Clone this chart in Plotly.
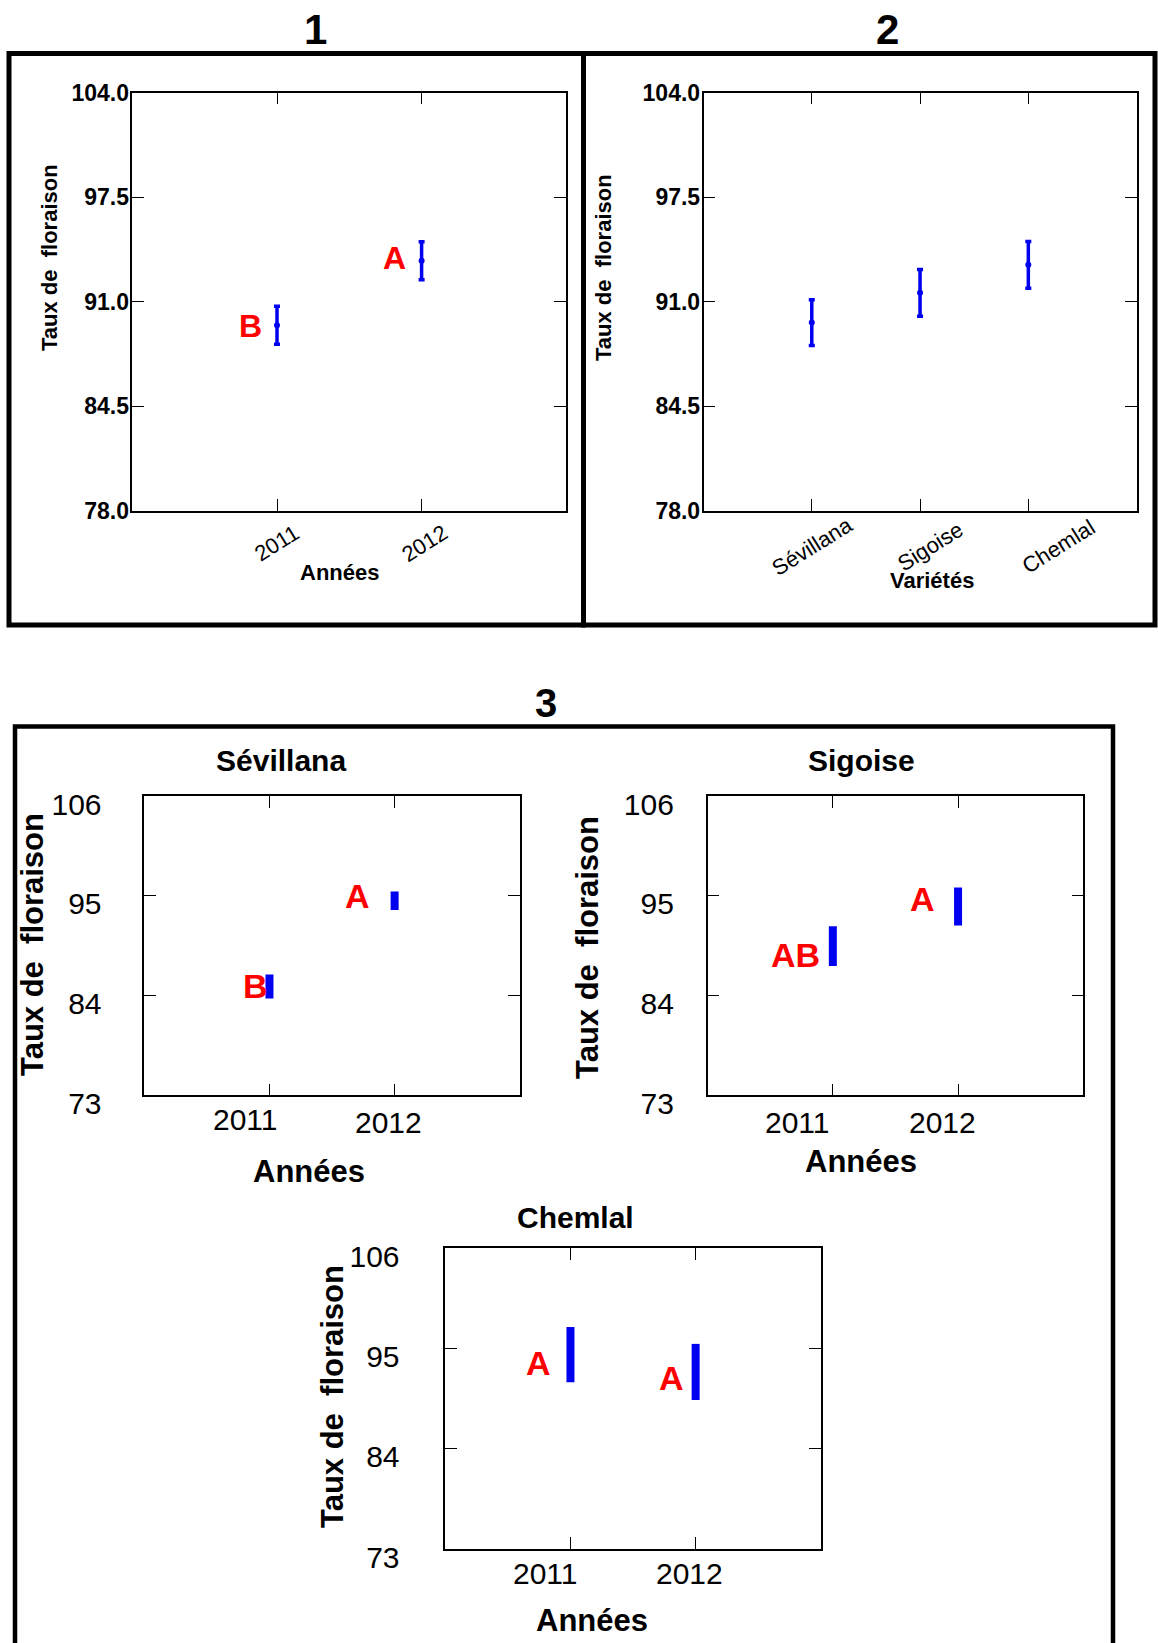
import plotly.graph_objects as go

W, H = 1158, 1643

def px(x):
    return x / W

def py(y):
    return 1 - y / H

# ---------------- data ----------------
years = [2011, 2012]
p1_mean = [89.55, 93.56]
p1_err = [1.18, 1.18]
p1_letters = ["B", "A"]

varieties = ["Sévillana", "Sigoise", "Chemlal"]
p2_mean = [89.71, 91.56, 93.30]
p2_err = [1.42, 1.45, 1.45]

sev_mean = [85.00, 94.45]
sev_err = [1.32, 1.01]
sev_letters = ["B", "A"]

sig_mean = [89.45, 93.82]
sig_err = [2.20, 2.10]
sig_letters = ["AB", "A"]

che_mean = [94.33, 92.43]
che_err = [3.03, 3.08]
che_letters = ["A", "A"]

p12_yticks = [78.0, 84.5, 91.0, 97.5, 104.0]
p3_yticks = [73, 84, 95, 106]

ylabel = "Taux de  floraison"
xlabel_years = "Années"
xlabel_var = "Variétés"

BLUE = "#0000F0"
RED = "#FF0000"
FONT = "Liberation Sans, Arial, sans-serif"

fig = go.Figure()

# ---------------- panel 1 ----------------
fig.add_trace(go.Scatter(
    x=years, y=p1_mean, mode="markers",
    marker=dict(color=BLUE, size=6),
    error_y=dict(type="data", array=p1_err, color=BLUE, thickness=3.5, width=3),
    xaxis="x", yaxis="y", showlegend=False))

# ---------------- panel 2 ----------------
fig.add_trace(go.Scatter(
    x=varieties, y=p2_mean, mode="markers",
    marker=dict(color=BLUE, size=6),
    error_y=dict(type="data", array=p2_err, color=BLUE, thickness=3.5, width=3),
    xaxis="x2", yaxis="y2", showlegend=False))

# ---------------- panel 3 ----------------
for mean, err, xa, ya in [(sev_mean, sev_err, "x3", "y3"),
                          (sig_mean, sig_err, "x4", "y4"),
                          (che_mean, che_err, "x5", "y5")]:
    fig.add_trace(go.Scatter(
        x=years, y=mean, mode="markers",
        marker=dict(color=BLUE, size=1, opacity=0),
        error_y=dict(type="data", array=err, color=BLUE, thickness=8, width=0),
        xaxis=xa, yaxis=ya, showlegend=False))

axis_common = dict(showline=True, linecolor="black", linewidth=1.5, mirror="ticks",
                   ticks="inside", ticklen=12, tickcolor="black", tickwidth=1,
                   showgrid=False, zeroline=False, automargin=False)

layout = dict(
    width=W, height=H, margin=dict(l=0, r=0, t=0, b=0, pad=0), autosize=False,
    paper_bgcolor="white", plot_bgcolor="white",
    font=dict(family=FONT, color="black"),
    xaxis=dict(domain=[px(132.4), px(566.2)], range=[2010, 2013], tickvals=years,
               showticklabels=False, anchor="y", **axis_common),
    yaxis=dict(domain=[py(511), py(92.7)], range=[78, 104], tickvals=p12_yticks,
               tickformat=".1f", tickfont=dict(size=23, weight="bold"),
               ticklabelstandoff=-3, anchor="x", **axis_common),
    xaxis2=dict(domain=[px(703.5), px(1136.6)], type="category", range=[-1, 3],
                showticklabels=False, anchor="y2", **axis_common),
    yaxis2=dict(domain=[py(511), py(92.7)], range=[78, 104], tickvals=p12_yticks,
                tickformat=".1f", tickfont=dict(size=23, weight="bold"),
                ticklabelstandoff=-3, anchor="x2", **axis_common),
)

p3_axes = [
    ("xaxis3", "yaxis3", "x3", "y3", (144.3, 519.8, 796, 1095.3), 35),
    ("xaxis4", "yaxis4", "x4", "y4", (707.6, 1083.3, 796, 1095.3), 26),
    ("xaxis5", "yaxis5", "x5", "y5", (445.3, 820.8, 1248.3, 1549), 38),
]
for xk, yk, xa, ya, (l, r, t, b), ystand in p3_axes:
    layout[xk] = dict(domain=[px(l), px(r)], range=[2010, 2013], tickvals=years,
                      showticklabels=False, anchor=ya, **axis_common)
    layout[yk] = dict(domain=[py(b), py(t)], range=[73, 106], tickvals=p3_yticks,
                      tickfont=dict(size=30), ticklabelstandoff=ystand, ticklabelshift=8,
                      anchor=xa, **axis_common)

fig.update_layout(**layout)

ann = []

def text(x, y, s, size, bold=True, angle=0, color="black"):
    ann.append(dict(x=px(x), y=py(y), xref="paper", yref="paper", text=s,
                    showarrow=False, textangle=angle, xanchor="center", yanchor="middle",
                    font=dict(size=size, color=color, family=FONT,
                              weight="bold" if bold else "normal")))

# big panel titles
text(315, 29, "1", 42)
text(888, 29, "2", 42)
text(546, 703, "3", 40)

# panel 1 / 2 axis titles
text(49, 258, ylabel, 22, angle=-90)
text(339, 573, xlabel_years, 22)
text(604, 268, ylabel, 22, angle=-90)
text(932, 580, xlabel_var, 22)

# rotated tick labels (panel 1 and 2)
for yr, dx in zip(years, [-1, 3]):
    ann.append(dict(x=yr, y=py(543), xref="x", yref="paper", text=str(yr), showarrow=False,
                    textangle=-32, xanchor="center", yanchor="middle", xshift=dx,
                    font=dict(size=22, family=FONT)))
for i, (v, dx) in enumerate(zip(varieties, [0, 10, 30])):
    ann.append(dict(x=i, y=py(546), xref="x2", yref="paper", text=v, showarrow=False,
                    textangle=-32, xanchor="center", yanchor="middle", xshift=dx,
                    font=dict(size=22, family=FONT)))

# panel 3 year tick labels
p3_xlab = [("x3", [(-24, 1119), (-6, 1122)]),
           ("x4", [(-35, 1122), (-16, 1122)]),
           ("x5", [(-25, 1573), (-6, 1573)])]
for xref, pos in p3_xlab:
    for yr, (dx, yy) in zip(years, pos):
        ann.append(dict(x=yr, y=py(yy), xref=xref, yref="paper", text=str(yr),
                        showarrow=False, xanchor="center", yanchor="middle", xshift=dx,
                        font=dict(size=30, family=FONT)))

# panel 3 titles and axis titles
text(281, 760, "Sévillana", 30)
text(861, 760, "Sigoise", 30)
text(575, 1217, "Chemlal", 30)
text(309, 1171, xlabel_years, 31)
text(861, 1161, xlabel_years, 31)
text(592, 1620, xlabel_years, 31)
text(32, 945, ylabel, 31, angle=-90)
text(587, 948, ylabel, 31, angle=-90)
text(332, 1397, ylabel, 31, angle=-90)

# significance letters
def letters(xref, yref, means, labs, shifts, size):
    for yr, m, lab, (dx, dy) in zip(years, means, labs, shifts):
        ann.append(dict(x=yr, y=m, xref=xref, yref=yref, text=lab, showarrow=False,
                        xanchor="center", yanchor="middle", xshift=dx, yshift=dy,
                        font=dict(size=size, color=RED, family=FONT, weight="bold")))

letters("x", "y", p1_mean, p1_letters, [(-27, -1), (-27, 3)], 32)
letters("x3", "y3", sev_mean, sev_letters, [(-14, 0), (-37, 5)], 34)
letters("x4", "y4", sig_mean, sig_letters, [(-37, -9), (-36, 7)], 34)
letters("x5", "y5", che_mean, che_letters, [(-32, -8), (-24, -6)], 34)

fig.update_layout(annotations=ann)

# frames
shapes = []
def rect(x0, y0, x1, y1, w=5):
    shapes.append(dict(type="rect", xref="paper", yref="paper",
                       x0=px(x0), x1=px(x1), y0=py(y1), y1=py(y0),
                       line=dict(color="black", width=w), fillcolor="rgba(0,0,0,0)"))
rect(9, 53.5, 583.5, 625)
rect(583.5, 53.5, 1155, 625)
rect(15, 726.5, 1113, 1660, w=4.5)
fig.update_layout(shapes=shapes)

fig.write_html("out.html", config={"displayModeBar": False},
               post_script="document.body.style.margin='0';document.body.style.overflow='hidden';")
